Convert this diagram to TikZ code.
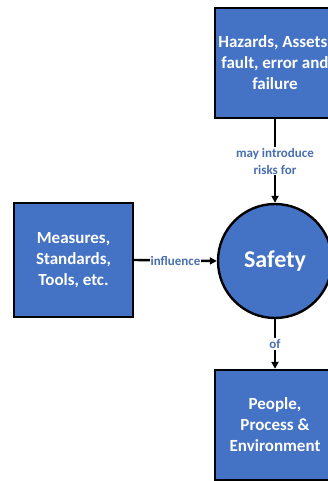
\documentclass[tikz,border=0pt]{standalone}
\usepackage{fontspec}
\setmainfont{Carlito}
\usetikzlibrary{arrows.meta}
\definecolor{boxblue}{HTML}{4472C4}
\definecolor{labelblue}{HTML}{4A6FB0}
\begin{document}
\begin{tikzpicture}[x=1pt,y=-1pt,
  block/.style={draw=black,line width=2.4pt,fill=boxblue,text=white,
    font=\bfseries\fontsize{17}{21}\selectfont,align=center,inner sep=0pt},
  hub/.style={circle,draw=black,line width=2.4pt,fill=boxblue,text=white,
    font=\bfseries\fontsize{24}{28}\selectfont,inner sep=0pt},
  link/.style={draw=black,line width=2.4pt,-{Triangle[length=7pt,width=7pt]}},
  tag/.style={fill=white,text=labelblue,font=\bfseries\fontsize{13}{17}\selectfont,
    align=center,inner sep=1pt}]
  \useasboundingbox (0,0) rectangle (328,481);
  \clip (0,0) rectangle (328,481);
  \fill[white] (0,0) rectangle (328,481);
  % main elements
  \node[block,minimum width=120,minimum height=110] (hazards) at (275,63)
    {Hazards, Assets,\\fault, error and\\failure};
  \node[hub,minimum size=114] (safety) at (275,261) {Safety};
  \node[block,minimum width=119,minimum height=114] (measures) at (73.5,260)
    {Measures,\\Standards,\\Tools, etc.};
  \node[block,minimum width=120,minimum height=110] (people) at (275,425)
    {People,\\Process \&\\Environment};
  % connectors
  \draw[link] (hazards.south) -- node[tag,pos=0.5]{may introduce\\risks for} (safety.north);
  \draw[link] (measures.east) -- node[tag,pos=0.5]{influence} (safety.west);
  \draw[link] (safety.south) -- node[tag,pos=0.5]{of} (people.north);
\end{tikzpicture}
\end{document}
